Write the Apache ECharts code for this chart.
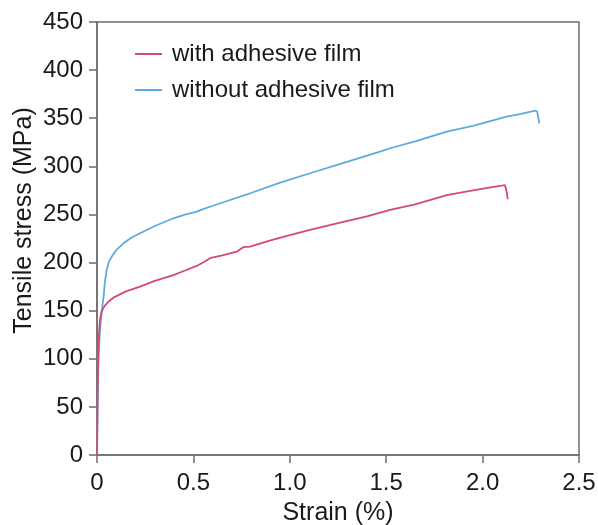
<!DOCTYPE html>
<html>
<head>
<meta charset="utf-8">
<script src="https://cdn.jsdelivr.net/npm/echarts@6/dist/echarts.min.js"></script>
<style>
html,body{margin:0;padding:0;background:#fff;}
#chart{width:598px;height:525px;}
</style>
</head>
<body>
<div id="chart"></div>
<script>
const seriesNames = ["with adhesive film", "without adhesive film"];
const xTicks = [0, 0.5, 1.0, 1.5, 2.0, 2.5];
const yTicks = [0, 50, 100, 150, 200, 250, 300, 350, 400, 450];

const strainWith = [0, 0.003, 0.006, 0.01, 0.015, 0.025, 0.04, 0.06, 0.085, 0.15, 0.223, 0.3, 0.396, 0.46, 0.517, 0.55, 0.586, 0.65, 0.725, 0.745, 0.759, 0.794, 0.9, 1.0, 1.105, 1.25, 1.40, 1.52, 1.65, 1.814, 1.95, 2.05, 2.099, 2.115, 2.121, 2.127, 2.13];
const stressWith = [0, 60, 100, 125, 140, 150, 155, 159.5, 163.5, 170, 175, 181, 187, 192, 196.5, 200, 204.5, 207.5, 211.3, 214, 216, 216.5, 223, 228.5, 233.9, 241, 248, 254.7, 260.5, 270, 275, 278.5, 280, 280.5, 277, 271, 265.8];

const strainWithout = [0, 0.004, 0.008, 0.014, 0.02, 0.028, 0.035, 0.041, 0.05, 0.062, 0.076, 0.1, 0.137, 0.18, 0.223, 0.3, 0.396, 0.46, 0.517, 0.55, 0.586, 0.69, 0.794, 0.95, 1.105, 1.3, 1.468, 1.52, 1.65, 1.814, 1.95, 2.125, 2.2, 2.272, 2.283, 2.289, 2.294];
const stressWithout = [0, 60, 100, 125, 140, 155, 166, 180, 192, 201, 206, 213, 220, 226, 230.4, 238, 246, 250, 253, 255.5, 258, 265, 272, 283, 292.8, 305, 315.3, 318.8, 326, 336, 342, 351.7, 354.5, 358, 357, 355, 344.7];

function pairs(xs, ys){ return xs.map((x,i)=>[x, ys[i]]); }

const colors = ["#d4496f", "#5aacdf"];
const font = "Liberation Sans, Arial, Helvetica, sans-serif";

const chart = echarts.init(document.getElementById('chart'), null, {renderer:'canvas'});
chart.setOption({
  animation: false,
  backgroundColor: '#ffffff',
  grid: {left: 97, right: 19, top: 22, bottom: 70, containLabel: false, outerBoundsMode: 'none',
         show: true, borderColor: '#6e6e6e', borderWidth: 1.5, backgroundColor: 'transparent'},
  legend: {
    orient: 'vertical', left: 130, top: 37,
    icon: 'rect', itemWidth: 27, itemHeight: 2, itemGap: 12,
    itemStyle: {borderWidth: 0},
    textStyle: {fontFamily: font, fontSize: 24, color: '#1a1a1a', padding: [0,0,0,5]},
    data: seriesNames
  },
  xAxis: {
    type: 'value', min: 0, max: 2.5, interval: 0.5,
    name: 'Strain (%)', nameLocation: 'middle', nameGap: 46, nameMoveOverlap: false,
    nameTextStyle: {fontFamily: font, fontSize: 25, color: '#1a1a1a'},
    axisLine: {show: true, onZero: false, lineStyle: {color: '#6e6e6e', width: 1.5}},
    axisTick: {show: true, inside: false, length: 8, lineStyle: {color: '#6e6e6e', width: 1.5}},
    axisLabel: {fontFamily: font, fontSize: 24, color: '#1a1a1a', margin: 16,
      formatter: v => { const t = xTicks.find(q => Math.abs(q - v) < 1e-9); return t === 0 ? '0' : t.toFixed(1); }},
    splitLine: {show: false}
  },
  yAxis: {
    type: 'value', min: 0, max: 450, interval: 50,
    name: 'Tensile stress (MPa)', nameLocation: 'middle', nameGap: 60, nameMoveOverlap: false,
    nameTextStyle: {fontFamily: font, fontSize: 25, color: '#1a1a1a', padding: [0, 0, 0, 36]},
    axisLine: {show: true, onZero: false, lineStyle: {color: '#6e6e6e', width: 1.5}},
    axisTick: {show: true, inside: false, length: 8, lineStyle: {color: '#6e6e6e', width: 1.5}},
    axisLabel: {fontFamily: font, fontSize: 24, color: '#1a1a1a', margin: 14,
      formatter: v => String(yTicks.find(q => Math.abs(q - v) < 1e-9))},
    splitLine: {show: false}
  },
  series: [
    {name: seriesNames[0], type: 'line', data: pairs(strainWith, stressWith), showSymbol: false, symbol: 'none',
     lineStyle: {color: colors[0], width: 1.8}, itemStyle: {color: colors[0]}, z: 3},
    {name: seriesNames[1], type: 'line', data: pairs(strainWithout, stressWithout), showSymbol: false, symbol: 'none',
     lineStyle: {color: colors[1], width: 1.8}, itemStyle: {color: colors[1]}, z: 2}
  ]
});
</script>
</body>
</html>
